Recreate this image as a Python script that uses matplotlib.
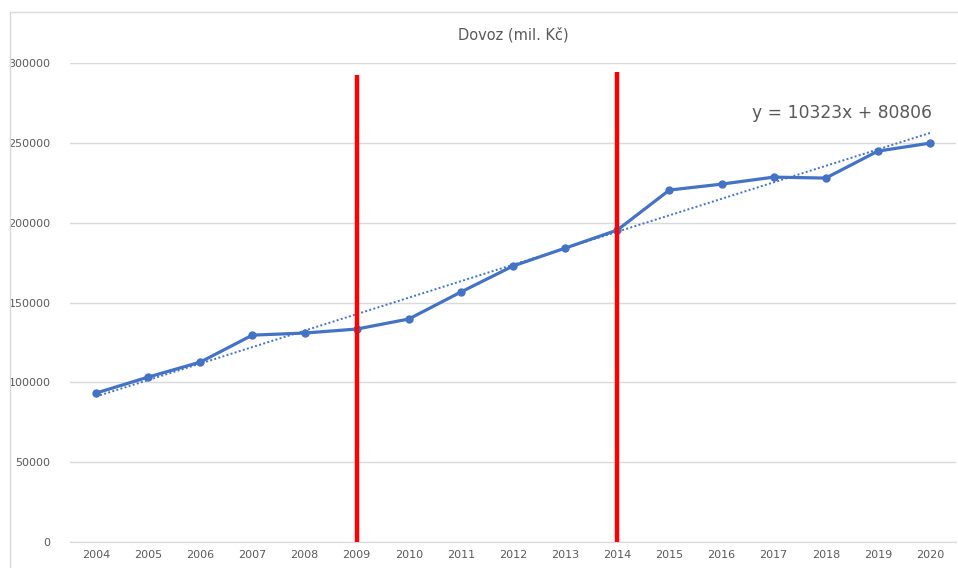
import matplotlib
matplotlib.use("Agg")
import matplotlib.pyplot as plt
from matplotlib.patches import Rectangle
import numpy as np

# data
years = [str(y) for y in range(2004, 2021)]
dovoz = [93300, 103300, 112700, 129600, 130900, 133400, 139700, 156600, 172900,
         184100, 195400, 220500, 224200, 228600, 228000, 244900, 249900]
trend_slope = 10323
trend_intercept = 80806
marker_years = ["2009", "2014"]
marker_tops = [292500, 294400]
y_ticks = [0, 50000, 100000, 150000, 200000, 250000, 300000]

blue = "#4472C4"
gray = "#595959"

fig = plt.figure(figsize=(9.58, 5.68), dpi=100)
ax = fig.add_axes([0.073, 0.0458, 0.925, 0.843])

x = np.arange(len(years))
ax.plot(x, dovoz, color=blue, linewidth=2.3, marker="o", markersize=5, zorder=3)

# Excel linear trendline (x = 1..n)
trend = trend_slope * (x + 1) + trend_intercept
ax.plot(x, trend, color=blue, linewidth=1.4, linestyle=(0, (1, 1.2)), zorder=2)

for yr, top in zip(marker_years, marker_tops):
    xi = years.index(yr)
    ax.plot([xi, xi], [0, top], color="#FF0000", linewidth=3.2, zorder=4,
            solid_capstyle="butt")

ax.set_xlim(-0.5, len(years) - 0.5)
ax.set_ylim(0, 300000)
ax.set_xticks(x)
ax.set_xticklabels(years)
ax.set_yticks(y_ticks)
ax.set_yticklabels([str(v) for v in y_ticks])
ax.tick_params(axis="both", length=0, labelsize=8, colors=gray)
ax.tick_params(axis="x", pad=6)
ax.tick_params(axis="y", pad=14)
ax.grid(axis="y", color="#D9D9D9", linewidth=1)
ax.set_axisbelow(True)
for s in ["top", "right", "left"]:
    ax.spines[s].set_visible(False)
ax.spines["bottom"].set_color("#D9D9D9")

ax.text(0.5, 1.06, "Dovoz (mil. Kč)", transform=ax.transAxes, ha="center",
        va="center", fontsize=10.5, color=gray)
ax.text(932 / 958, (568 - 113) / 568, "y = 10323x + 80806", transform=fig.transFigure,
        ha="right", va="center", fontsize=12.3, color=gray)

# chart area frame
fig.patches.append(Rectangle((10 / 958, -0.01), 1.0, (568 - 12) / 568 + 0.01,
                             transform=fig.transFigure, fill=False,
                             edgecolor="#D9D9D9", linewidth=1))

fig.savefig("out.png", dpi=100)
